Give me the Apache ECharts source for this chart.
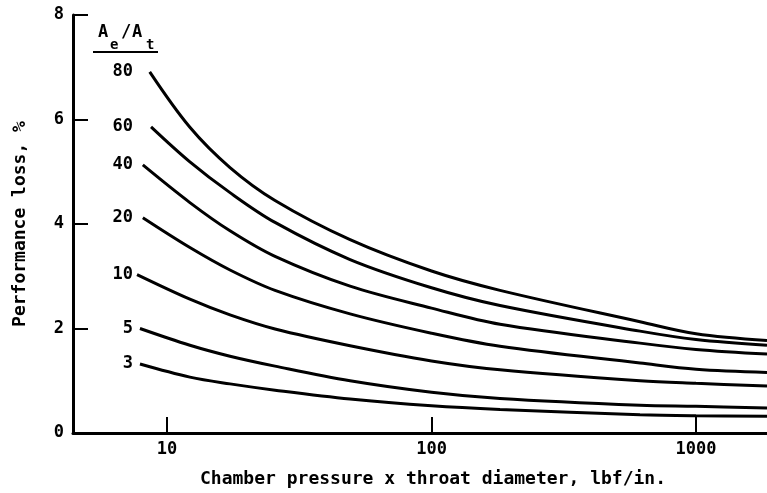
<!DOCTYPE html>
<html>
<head>
<meta charset="utf-8">
<script src="https://cdn.jsdelivr.net/npm/echarts@6/dist/echarts.min.js"></script>
<style>
    html, body { margin: 0; padding: 0; background: #fff; }
    #chart { width: 767px; height: 493px; }
</style>
</head>
<body>
<div id="chart"></div>
<script>
    // area ratio Ae/At for each curve, top to bottom
    const areaRatios = ['80', '60', '40', '20', '10', '5', '3'];
    // first x (Pc x Dt) where each curve begins
    const startPd = [8.6, 8.7, 8.1, 8.1, 7.7, 7.9, 7.9];
    // shared x values after the start point
    const pdPoints = [12.2, 17.3, 25.6, 49.2, 100, 181.5, 614, 1000, 1855];
    // performance loss, %  (start point first, then pdPoints)
    const loss80 = [6.91, 5.85, 5.08, 4.45, 3.70, 3.10, 2.73, 2.13, 1.90, 1.77];
    const loss60 = [5.86, 5.19, 4.60, 4.03, 3.32, 2.78, 2.44, 1.95, 1.79, 1.68];
    const loss40 = [5.13, 4.41, 3.87, 3.38, 2.81, 2.39, 2.08, 1.72, 1.60, 1.51];
    const loss20 = [4.12, 3.55, 3.12, 2.73, 2.28, 1.91, 1.66, 1.34, 1.22, 1.16];
    const loss10 = [3.03, 2.56, 2.26, 1.99, 1.67, 1.38, 1.21, 1.00, 0.95, 0.90];
    const loss5  = [2.00, 1.68, 1.47, 1.28, 1.00, 0.78, 0.66, 0.53, 0.51, 0.48];
    const loss3  = [1.32, 1.07, 0.94, 0.82, 0.65, 0.52, 0.45, 0.35, 0.33, 0.32];
    const xTickLabels = [10, 100, 1000];
    const yTicks = [0, 2, 4, 6, 8];

    const lossSets = [loss80, loss60, loss40, loss20, loss10, loss5, loss3];
    const font = 'DejaVu Sans Mono';

    let myChart = echarts.init(document.getElementById('chart'));

    let series = lossSets.map(function (vals, i) {
        let xs = [startPd[i]].concat(pdPoints);
        return {
            name: areaRatios[i],
            type: 'line',
            smooth: 0.35,
            symbol: 'none',
            lineStyle: { color: '#000', width: 3 },
            data: xs.map(function (x, j) { return [x, vals[j]]; })
        };
    });

    let option = {
        animation: false,
        grid: { left: 73, right: 0, top: 15, bottom: 59 },
        xAxis: {
            type: 'log',
            logBase: 10,
            min: 4.41,
            max: 1855,
            name: 'Chamber pressure x throat diameter, lbf/in.',
            nameLocation: 'middle',
            nameGap: 37,
            nameTextStyle: {
                color: '#000', fontFamily: font, fontWeight: 'bold', fontSize: 18,
                padding: [0, 0, 0, 26]
            },
            axisLine: { lineStyle: { color: '#000', width: 3 } },
            axisTick: { inside: true, length: 16, lineStyle: { color: '#000', width: 2 } },
            splitLine: { show: false },
            minorTick: { show: false },
            axisLabel: {
                color: '#000', fontFamily: font, fontWeight: 'bold', fontSize: 17, margin: 8,
                showMinLabel: false, showMaxLabel: false,
                formatter: function (v) {
                    for (let t of xTickLabels) {
                        if (Math.abs(v - t) / t < 1e-6) return String(t);
                    }
                    return '';
                }
            }
        },
        yAxis: {
            type: 'value',
            min: yTicks[0],
            max: yTicks[yTicks.length - 1],
            interval: 2,
            name: 'Performance loss, %',
            nameLocation: 'middle',
            nameGap: 44,
            nameTextStyle: { color: '#000', fontFamily: font, fontWeight: 'bold', fontSize: 18 },
            axisLine: { show: true, lineStyle: { color: '#000', width: 3 } },
            axisTick: { show: true, inside: true, length: 15, lineStyle: { color: '#000', width: 2 } },
            splitLine: { show: false },
            axisLabel: { color: '#000', fontFamily: font, fontWeight: 'bold', fontSize: 17, margin: 9 }
        },
        series: series
    };
    myChart.setOption(option);

    // curve labels at the left end of each curve, plus the Ae/At header
    let labelStyle = { fill: '#000', font: 'bold 17px "' + font + '"', align: 'right', verticalAlign: 'middle' };
    let graphics = areaRatios.map(function (r, i) {
        let p = myChart.convertToPixel({ seriesIndex: i }, [startPd[i], lossSets[i][0]]);
        return {
            type: 'text',
            style: Object.assign({}, labelStyle, { text: r, x: 133, y: p[1] })
        };
    });
    let hdr = { fill: '#000', font: 'bold 17px "' + font + '"', align: 'left', verticalAlign: 'middle' };
    let sub = { fill: '#000', font: 'bold 14px "' + font + '"', align: 'left', verticalAlign: 'middle' };
    graphics.push(
        { type: 'text', style: Object.assign({}, hdr, { text: 'A', x: 98, y: 33 }) },
        { type: 'text', style: Object.assign({}, sub, { text: 'e', x: 110, y: 45 }) },
        { type: 'text', style: Object.assign({}, hdr, { text: '/', x: 121, y: 33 }) },
        { type: 'text', style: Object.assign({}, hdr, { text: 'A', x: 132, y: 33 }) },
        { type: 'text', style: Object.assign({}, sub, { text: 't', x: 146, y: 45 }) },
        { type: 'line', shape: { x1: 93, y1: 52, x2: 158, y2: 52 }, style: { stroke: '#000', lineWidth: 2 } }
    );
    myChart.setOption({ graphic: graphics });
</script>
</body>
</html>
